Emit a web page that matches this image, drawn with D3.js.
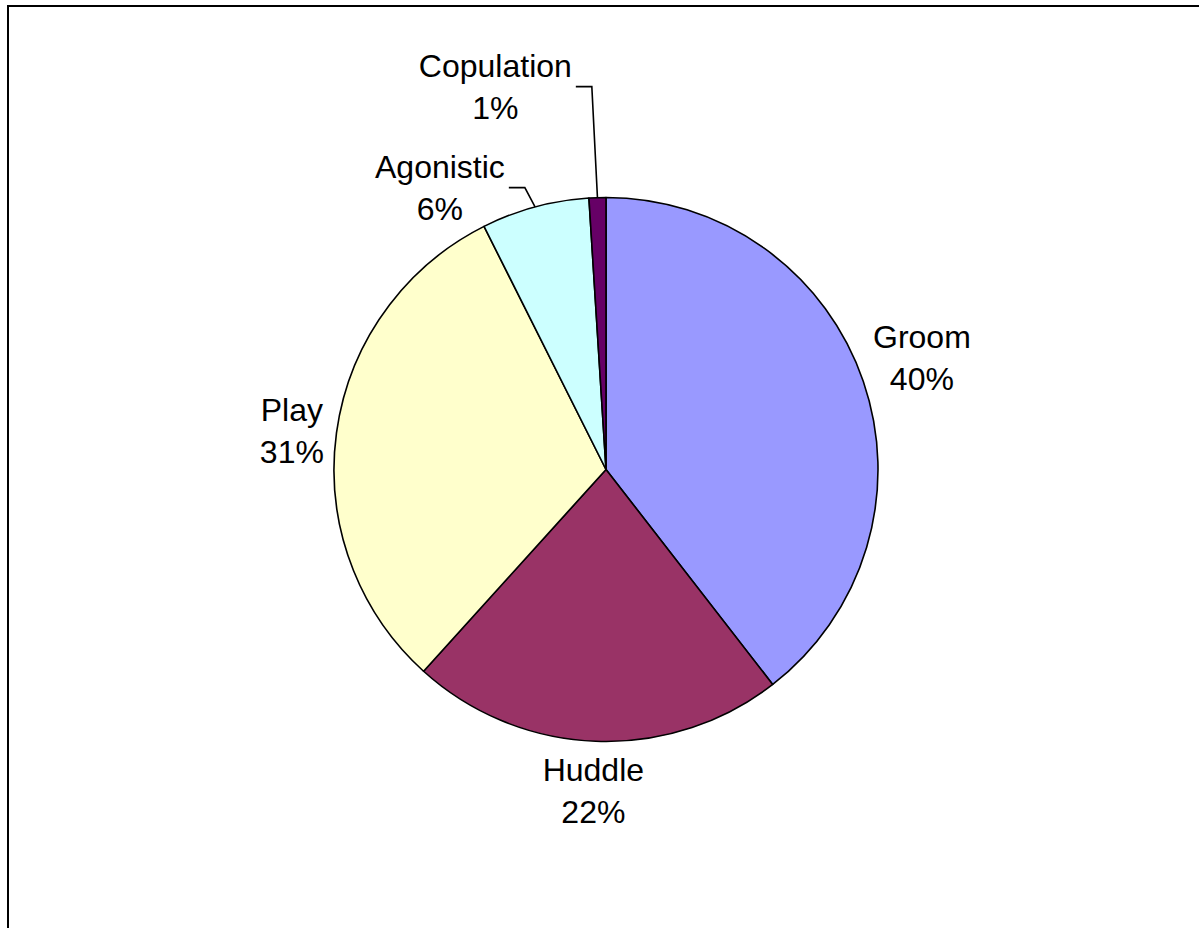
<!DOCTYPE html>
<html>
<head>
<meta charset="utf-8">
<script src="https://cdn.jsdelivr.net/npm/d3@7"></script>
<style>
body { margin: 0; background: #fff; }
svg { display: block; }
text { font-family: "Liberation Sans", Arial, sans-serif; font-size: 32px; fill: #000; }
</style>
</head>
<body>
<div id="chart"></div>
<script>
// chart values (percent)
var categories = ["Groom", "Huddle", "Play", "Agonistic", "Copulation"];
var values = [39.5, 22.2, 30.9, 6.4, 1.0];
var colors = ["#9999FF", "#993366", "#FFFFCC", "#CCFFFF", "#660066"];

var width = 1199;
var height = 928;
var cx = 606, cy = 469.5;
var radius = 272;
var fontSize = 32;
var lineGap = 42;
var capH = 0.68 * fontSize;

var svg = d3.select('#chart')
    .append('svg')
        .attr('width', width)
        .attr('height', height);

// chart area border (runs off right and bottom edge)
svg.append('rect')
    .attr('x', 8)
    .attr('y', 6)
    .attr('width', width)
    .attr('height', height)
    .style('fill', 'none')
    .style('stroke', '#000')
    .style('stroke-width', 2);

var total = d3.sum(values);
var data = categories.map(function(c, i) {
    return {cat: c, value: values[i], color: colors[i]};
});

var pie = d3.pie()
    .value(function(d) { return d.value; })
    .sort(null);

var arc = d3.arc()
    .innerRadius(0)
    .outerRadius(radius);

var g = svg.append('g')
    .attr('transform', 'translate(' + cx + ',' + cy + ')');

var arcs = pie(data);

g.selectAll('path')
    .data(arcs)
    .enter()
    .append('path')
        .attr('d', arc)
        .style('fill', function(d) { return d.data.color; })
        .style('stroke', '#000')
        .style('stroke-width', 1.6)
        .style('stroke-linejoin', 'round');

// labels
function addLabel(d) {
    var lab = g.append('g');
    var t1 = lab.append('text').attr('text-anchor', 'middle').text(d.data.cat);
    var t2 = lab.append('text').attr('text-anchor', 'middle')
        .text(Math.round(d.data.value / total * 100) + '%');
    var w = Math.max(t1.node().getComputedTextLength(), t2.node().getComputedTextLength());
    return {g: lab, t1: t1, t2: t2, w: w, h: lineGap + fontSize};
}

function placeLabel(l, x, y) {
    l.t1.attr('x', x).attr('y', y - lineGap / 2 + capH / 2);
    l.t2.attr('x', x).attr('y', y + lineGap / 2 + capH / 2);
}

var small = [];
arcs.forEach(function(d) {
    var mid = (d.startAngle + d.endAngle) / 2;
    var s = Math.sin(mid), c = Math.cos(mid);
    var l = addLabel(d);
    if (d.data.value / total >= 0.1) {
        var R = radius + 13;
        var ax = s * R, ay = -c * R;
        // pull the label box a bit more up/down for the slices near top or bottom
        var dy = -c * l.h / 2 - (c > 0.2 ? 7 : 0) + (Math.abs(c) < 0.2 ? 5 : 0);
        placeLabel(l, ax + s * l.w / 2, ay + dy);
    } else {
        small.push({d: d, l: l, s: s, c: c});
    }
});

// small slices: pushed out with leader lines, stacked so they don't overlap
var prevY = null;
small.forEach(function(o) {
    var px = o.s * radius, py = -o.c * radius;
    var ex = px + o.s * 20 - 5;
    var ey = py - o.c * 20;
    if (prevY !== null && ey > prevY - 101) ey = prevY - 101;
    prevY = ey;
    var endX = ex - 16;
    g.append('polyline')
        .attr('points', [[px, py], [ex, ey], [endX, ey]].map(function(p) { return p.join(','); }).join(' '))
        .style('fill', 'none')
        .style('stroke', '#000')
        .style('stroke-width', 1.6);
    placeLabel(o.l, endX - 4 - o.l.w / 2, ey);
});
</script>
</body>
</html>
